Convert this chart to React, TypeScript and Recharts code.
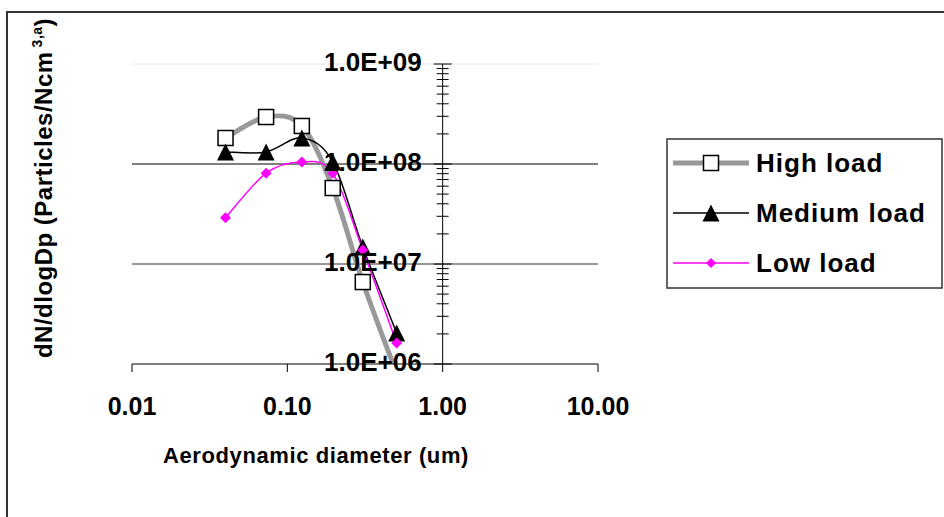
import { LineChart, Line, XAxis, YAxis, ReferenceLine } from 'recharts';

const diameters = [0.04, 0.073, 0.124, 0.196, 0.306, 0.506];
const highLoad = [1.82e8, 2.95e8, 2.4e8, 5.75e7, 6.6e6, 8e5];
const mediumLoad = [1.32e8, 1.32e8, 1.82e8, 1.05e8, 1.48e7, 2.04e6];
const lowLoad = [2.9e7, 8.1e7, 1.05e8, 8.1e7, 1.38e7, 1.62e6];

const xTicks = [0.01, 0.1, 1, 10];
const yDecades = [1e6, 1e7, 1e8, 1e9];
const seriesNames = ['High load', 'Medium load', 'Low load'];

const data = diameters.map((d, i) => ({
  d,
  high: highLoad[i],
  medium: mediumLoad[i],
  low: lowLoad[i],
}));

const yTicks: number[] = [];
yDecades.forEach((dec, i) => {
  if (i === yDecades.length - 1) {
    yTicks.push(dec);
    return;
  }
  for (let m = 1; m < 10; m++) yTicks.push(dec * m);
});

const W = 944;
const H = 517;
const PLOT_LEFT = 132;
const PLOT_RIGHT = 598;
const PLOT_TOP = 64;
const PLOT_BOTTOM = 364;
const Y_AXIS_W = 60;
const X_AXIS_H = 30;
const FONT = '"Liberation Sans", Arial, sans-serif';

// the value axis crosses the category axis at x = 1
const CROSS_X =
  PLOT_LEFT +
  ((PLOT_RIGHT - PLOT_LEFT) * (Math.log10(1) - Math.log10(xTicks[0]))) /
    (Math.log10(xTicks[xTicks.length - 1]) - Math.log10(xTicks[0]));

// Excel-like smoothed line (Catmull-Rom through the points)
const smoothCurve = (context: any) => {
  let pts: [number, number][] = [];
  return {
    areaStart() {},
    areaEnd() {},
    lineStart() {
      pts = [];
    },
    point(x: number, y: number) {
      pts.push([+x, +y]);
    },
    lineEnd() {
      if (!pts.length) return;
      context.moveTo(pts[0][0], pts[0][1]);
      for (let i = 0; i < pts.length - 1; i++) {
        const p0 = pts[Math.max(i - 1, 0)];
        const p1 = pts[i];
        const p2 = pts[i + 1];
        const p3 = pts[Math.min(i + 2, pts.length - 1)];
        context.bezierCurveTo(
          p1[0] + (p2[0] - p0[0]) / 6,
          p1[1] + (p2[1] - p0[1]) / 6,
          p2[0] - (p3[0] - p1[0]) / 6,
          p2[1] - (p3[1] - p1[1]) / 6,
          p2[0],
          p2[1]
        );
      }
    },
  };
};

const square = (cx: number, cy: number, s: number, key?: string) => (
  <rect key={key} x={cx - s / 2} y={cy - s / 2} width={s} height={s} fill="#fff" stroke="#000" strokeWidth={1.5} />
);
const triangle = (cx: number, cy: number, s: number, key?: string) => (
  <polygon key={key} points={`${cx},${cy - s / 2} ${cx + s / 2},${cy + s / 2} ${cx - s / 2},${cy + s / 2}`} fill="#000" />
);
const diamond = (cx: number, cy: number, s: number, key?: string) => (
  <polygon key={key} points={`${cx},${cy - s / 2} ${cx + s / 2},${cy} ${cx},${cy + s / 2} ${cx - s / 2},${cy}`} fill="#ff00ff" />
);

const dotFor = (shape: typeof square, size: number) => (props: any) => {
  const { cx, cy, index } = props;
  if (cx == null || cy == null) return <g key={`e-${index}`} />;
  return shape(cx, cy, size, `d-${index}`);
};

const YTick = (props: any) => {
  const { y, payload } = props;
  const v = payload.value;
  const major = Math.abs(Math.log10(v) - Math.round(Math.log10(v))) < 1e-9;
  const half = major ? 9 : 6;
  return (
    <g>
      <line x1={CROSS_X - half} x2={CROSS_X + half} y1={y} y2={y} stroke="#000" strokeWidth={1} />
      {major && (
        <text x={CROSS_X - 21} y={y} dy={7} textAnchor="end" fontFamily={FONT} fontWeight="bold" fontSize={26} fill="#000">
          {v.toExponential(1).toUpperCase().replace(/E\+(\d)$/, 'E+0$1')}
        </text>
      )}
    </g>
  );
};

const legendShapes = [square, triangle, diamond];
const legendSizes = [15, 17, 10];
const legendLines = [
  { stroke: '#999999', width: 5 },
  { stroke: '#000000', width: 1.5 },
  { stroke: '#ff00ff', width: 1.5 },
];

export default function App() {
  return (
    <div style={{ position: 'absolute', left: 0, top: 0, width: W, height: H, overflow: 'hidden', background: '#fff' }}>
      <div
        style={{
          position: 'absolute',
          left: 6,
          top: 11,
          width: W,
          height: H,
          borderLeft: '2px solid #333',
          borderTop: '2px solid #333',
        }}
      />
      <div style={{ position: 'absolute', left: 0, top: 0 }}>
        <LineChart
          width={W}
          height={H}
          data={data}
          margin={{
            top: PLOT_TOP,
            right: W - PLOT_RIGHT,
            left: PLOT_LEFT - Y_AXIS_W,
            bottom: H - PLOT_BOTTOM - X_AXIS_H,
          }}
        >
          <ReferenceLine y={1e9} stroke="#e6e6e6" />
          <ReferenceLine y={1e8} stroke="#000" />
          <ReferenceLine y={1e7} stroke="#333" />
          <XAxis
            dataKey="d"
            type="number"
            scale="log"
            domain={[xTicks[0], xTicks[xTicks.length - 1]]}
            ticks={xTicks}
            interval={0}
            height={X_AXIS_H}
            tickFormatter={(v: number) => v.toFixed(2)}
            tickSize={8}
            tickMargin={25}
            stroke="#000"
            tick={{ fill: '#000', fontFamily: FONT, fontWeight: 'bold', fontSize: 25 }}
            allowDataOverflow
          />
          <YAxis
            type="number"
            scale="log"
            domain={[yDecades[0], yDecades[yDecades.length - 1]]}
            ticks={yTicks}
            interval={0}
            width={Y_AXIS_W}
            axisLine={false}
            tickLine={false}
            tick={<YTick />}
            allowDataOverflow
          />
          <ReferenceLine x={1} stroke="#000" />
          <Line
            dataKey="high"
            name={seriesNames[0]}
            type={smoothCurve as any}
            stroke="#999999"
            strokeWidth={5}
            dot={dotFor(square, 15)}
            activeDot={false}
            isAnimationActive={false}
          />
          <Line
            dataKey="medium"
            name={seriesNames[1]}
            type={smoothCurve as any}
            stroke="#000"
            strokeWidth={1.5}
            dot={dotFor(triangle, 17)}
            activeDot={false}
            isAnimationActive={false}
          />
          <Line
            dataKey="low"
            name={seriesNames[2]}
            type={smoothCurve as any}
            stroke="#ff00ff"
            strokeWidth={1.5}
            dot={dotFor(diamond, 11)}
            activeDot={false}
            isAnimationActive={false}
          />
        </LineChart>
      </div>
      <svg width={W} height={H} style={{ position: 'absolute', left: 0, top: 0, pointerEvents: 'none' }}>
        <text
          transform="translate(43,188) rotate(-90)"
          textAnchor="middle"
          dy={9}
          fontFamily={FONT}
          fontWeight="bold"
          fontSize={24}
          letterSpacing={0.5}
          fill="#000"
        >
          dN/dlogDp (Particles/Ncm
          <tspan dx={4} dy={-10} fontSize={14}>3,a</tspan>
          <tspan dy={10}>)</tspan>
        </text>
        <text x={316} y={463} textAnchor="middle" fontFamily={FONT} fontWeight="bold" fontSize={22} letterSpacing={0.6} fill="#000">
          Aerodynamic diameter (um)
        </text>
        <rect x={667} y={139} width={275} height={149} fill="#fff" stroke="#333" strokeWidth={1.5} />
        {seriesNames.map((name, i) => {
          const cy = 163 + i * 50;
          return (
            <g key={name}>
              <line x1={673} x2={749} y1={cy} y2={cy} stroke={legendLines[i].stroke} strokeWidth={legendLines[i].width} />
              {legendShapes[i](711, cy, legendSizes[i])}
              <text x={756} y={cy} dy={9} fontFamily={FONT} fontWeight="bold" fontSize={26} letterSpacing={1} fill="#000">
                {name}
              </text>
            </g>
          );
        })}
      </svg>
    </div>
  );
}
